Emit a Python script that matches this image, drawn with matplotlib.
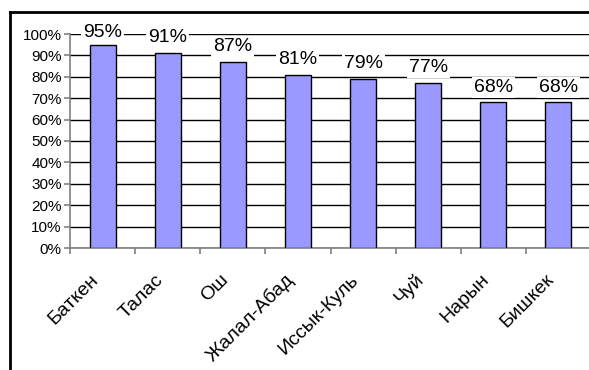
import matplotlib.pyplot as plt
import matplotlib.transforms as mtransforms
from matplotlib.lines import Line2D

plt.rcParams["font.family"] = ["Liberation Sans", "DejaVu Sans"]

regions = ["Баткен", "Талас", "Ош", "Жалал-Абад", "Иссык-Куль", "Чуй", "Нарын", "Бишкек"]
shares = [95, 91, 87, 81, 79, 77, 68, 68]
yticks = list(range(0, 101, 10))

BAR = "#9999FF"
GRID = "#000000"
AXIS = "#808080"

fig = plt.figure(figsize=(5.89, 3.70), dpi=100)
ax = fig.add_axes([70/589, 1-248/370, 521/589, 214/370])

x = range(len(regions))
ax.bar(x, shares, width=0.4, color=BAR, edgecolor="#000000", linewidth=1.0, zorder=3)

# value labels float ~7 points above each bar, kept from running off the top
for xi, v in zip(x, shares):
    ax.text(xi, min(v + 7.2, 100.6), f"{v}%", ha="center", va="center",
            fontsize=14, zorder=5, clip_on=False,
            bbox=dict(boxstyle="square,pad=0.1", fc="white", ec="none"))

ax.set_xlim(-0.5, len(regions) - 0.5)
ax.set_ylim(0, 100)
ax.set_yticks(yticks)
ax.set_yticklabels([f"{t}%" for t in yticks], fontsize=11)
ax.yaxis.grid(True, color=GRID, lw=1.0, zorder=0)
ax.set_axisbelow(True)

# category ticks sit on the boundaries, labels on the centres
ax.set_xticks([i - 0.5 for i in range(len(regions) + 1)])
ax.set_xticklabels([])
ax.set_xticks(list(x), minor=True)
ax.set_xticklabels(regions, minor=True, rotation=45, ha="right", va="center",
                   rotation_mode="anchor", fontsize=14)
ax.tick_params(axis="x", which="minor", length=0, pad=21)
ax.tick_params(axis="x", which="major", length=4, color=AXIS, width=1.2)
ax.tick_params(axis="y", length=4, color=AXIS, width=1.2, pad=2)
shift = mtransforms.ScaledTranslation(-5/72, 0, fig.dpi_scale_trans)
for lbl in ax.get_xticklabels(minor=True):
    lbl.set_transform(lbl.get_transform() + shift)

for s in ["top", "right"]:
    ax.spines[s].set_visible(False)
for s in ["left", "bottom"]:
    ax.spines[s].set_color(AXIS)
    ax.spines[s].set_linewidth(1.2)

# outer chart frame (left and top edges)
fig.add_artist(Line2D([10/589, 10/589], [0, 1-12/370], color="black", lw=2,
                      transform=fig.transFigure))
fig.add_artist(Line2D([10/589, 1], [1-12/370, 1-12/370], color="black", lw=2,
                      transform=fig.transFigure))

fig.savefig("out.png", dpi=100)
